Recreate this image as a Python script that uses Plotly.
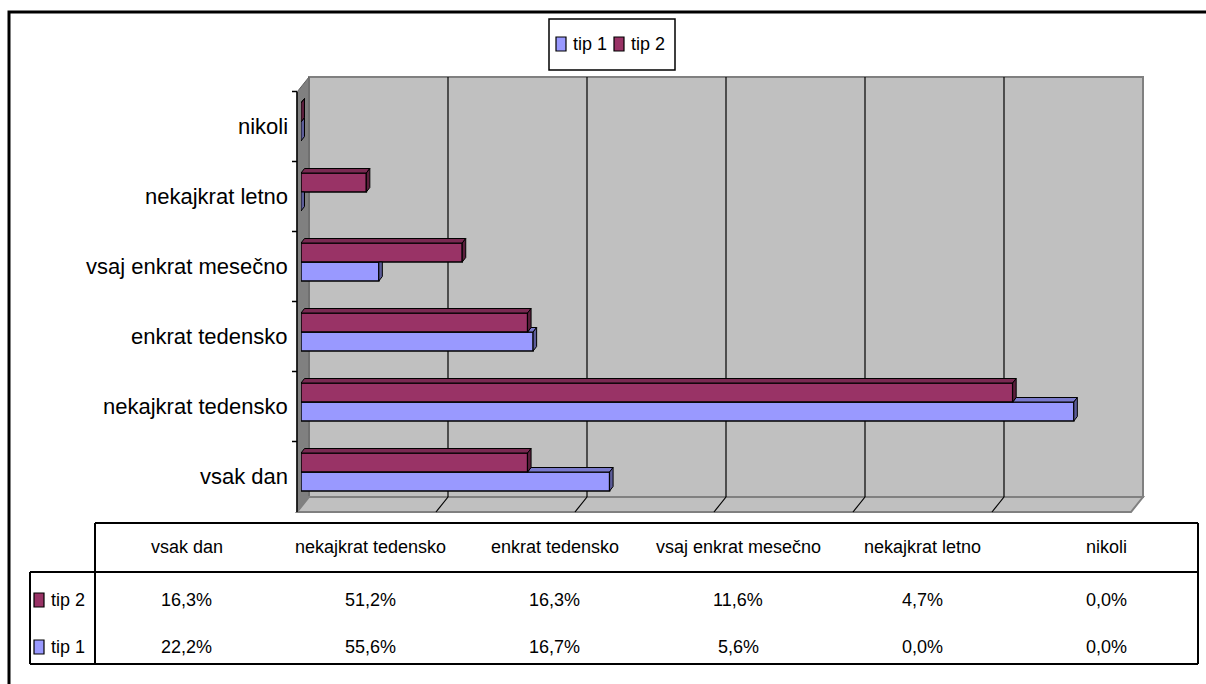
import plotly.graph_objects as go

# ---------------- data ----------------
categories = ["vsak dan", "nekajkrat tedensko", "enkrat tedensko",
              "vsaj enkrat mesečno", "nekajkrat letno", "nikoli"]
series_names = ["tip 1", "tip 2"]
tip1 = [22.2, 55.6, 16.7, 5.6, 0.0, 0.0]
tip2 = [16.3, 51.2, 16.3, 11.6, 4.7, 0.0]
grid_values = [0, 10, 20, 30, 40, 50, 60]

# ---------------- styling / geometry ----------------
W, H = 1206, 684
FONT = "Liberation Sans Narrow, Arial Narrow, Liberation Sans, Arial, sans-serif"
C1, C1_TOP, C1_SIDE = "#9999FF", "#7A7ACC", "#5C5C99"
C2, C2_TOP, C2_SIDE = "#993366", "#7A2952", "#5C1F3D"

X0_PX, X1_PX = 301, 1135        # bar plane: 0 .. 60 %
Y_TOP_PX, Y_BOT_PX = 87, 507     # bar plane: category range -0.5 .. 5.5
PX_PER_PCT = (X1_PX - X0_PX) / 60.0
PX_PER_CAT = (Y_BOT_PX - Y_TOP_PX) / 6.0
DX = 3.5 / PX_PER_PCT            # bar depth (data units)
DY = 4.5 / PX_PER_CAT
BAR_W = 19 / PX_PER_CAT
WALL_DX = 8 / PX_PER_PCT         # back wall offset
FRONT_DX = -4 / PX_PER_PCT       # front floor edge offset


def px(x):
    return x / W


def py(y):
    return 1 - y / H


fig = go.Figure()

pos = list(range(len(categories)))

fig.add_trace(go.Bar(y=pos, x=tip1, orientation="h", width=BAR_W, offset=-BAR_W,
                     marker=dict(color=C1, line=dict(color="black", width=1.5)),
                     name=series_names[0], showlegend=False, hoverinfo="skip"))
fig.add_trace(go.Bar(y=pos, x=tip2, orientation="h", width=BAR_W, offset=0,
                     marker=dict(color=C2, line=dict(color="black", width=1.5)),
                     name=series_names[1], showlegend=False, hoverinfo="skip"))


def add_poly(xs, ys, color):
    fig.add_trace(go.Scatter(x=xs, y=ys, mode="lines", fill="toself",
                             fillcolor=color, line=dict(color="black", width=1),
                             hoverinfo="skip", showlegend=False))


# 3-D faces
t1x, t1y, s1x, s1y, t2x, t2y, s2x, s2y = [], [], [], [], [], [], [], []
for i, (v1, v2) in enumerate(zip(tip1, tip2)):
    # tip 1 (lower bar)
    yb, yt = i - BAR_W, i
    if v1 > v2:
        t1x += [v2, v1, v1 + DX, v2 + DX, v2, None]
        t1y += [yt, yt, yt + DY, yt + DY, yt, None]
    if v2 >= v1 + DX:
        s1x += [v1, v1, v1 + DX, v1 + DX, v1, None]
        s1y += [yb, yt, yt, yb + DY, yb, None]
    else:
        s1x += [v1, v1, v1 + DX, v1 + DX, v1, None]
        s1y += [yb, yt, yt + DY, yb + DY, yb, None]
    # tip 2 (upper bar)
    yb, yt = i, i + BAR_W
    t2x += [0, v2, v2 + DX, DX, 0, None]
    t2y += [yt, yt, yt + DY, yt + DY, yt, None]
    s2x += [v2, v2, v2 + DX, v2 + DX, v2, None]
    s2y += [yb, yt, yt + DY, yb + DY, yb, None]

add_poly(t1x, t1y, C1_TOP)
add_poly(s1x, s1y, C1_SIDE)
add_poly(t2x, t2y, C2_TOP)
add_poly(s2x, s2y, C2_SIDE)

shapes = []
# outer border
shapes.append(dict(type="rect", xref="paper", yref="paper", x0=px(9), x1=px(1220),
                   y0=py(12), y1=py(700), line=dict(color="black", width=3),
                   fillcolor="rgba(0,0,0,0)", layer="below"))
# back wall
shapes.append(dict(type="rect", xref="paper", yref="paper", x0=px(309), x1=px(1143),
                   y0=py(497), y1=py(77), line=dict(color="#808080", width=2),
                   fillcolor="#C0C0C0", layer="below"))
# left wall
shapes.append(dict(type="path", xref="paper", yref="paper",
                   path=f"M {px(297)} {py(92)} L {px(309)} {py(77)} L {px(309)} {py(497)} L {px(297)} {py(512)} Z",
                   fillcolor="#808080", line=dict(color="#606060", width=1), layer="below"))
# floor
shapes.append(dict(type="path", xref="paper", yref="paper",
                   path=f"M {px(297)} {py(512)} L {px(309)} {py(497)} L {px(1143)} {py(497)} L {px(1131)} {py(512)} Z",
                   fillcolor="#C0C0C0", line=dict(color="#808080", width=2), layer="below"))
# gridlines on back wall + floor
for v in grid_values[1:-1]:
    shapes.append(dict(type="line", xref="x", yref="paper", x0=v + WALL_DX, x1=v + WALL_DX,
                       y0=py(497), y1=py(77), line=dict(color="black", width=1.2), layer="below"))
    shapes.append(dict(type="line", xref="x", yref="paper", x0=v + WALL_DX, x1=v + FRONT_DX,
                       y0=py(497), y1=py(512), line=dict(color="black", width=1.2), layer="below"))
# category axis line + ticks
shapes.append(dict(type="line", xref="paper", yref="paper", x0=px(297), x1=px(297),
                   y0=py(92), y1=py(512), line=dict(color="black", width=1.5)))
for k in range(len(categories) + 1):
    yk = k - 0.5
    shapes.append(dict(type="line", xref="paper", yref="y", x0=px(292), x1=px(297),
                       y0=yk - DY, y1=yk - DY, line=dict(color="black", width=1.5)))

annotations = []
for i, c in enumerate(categories):
    annotations.append(dict(text=c, xref="paper", yref="y", x=px(290), y=i - DY,
                            xanchor="right", yanchor="middle", showarrow=False,
                            font=dict(family=FONT, size=22, color="black")))

# ---------------- data table ----------------
TL, TS, TR = 95, 30, 1198
TT, TM, TB = 523, 572, 664
lw = dict(color="black", width=2)
shapes += [
    dict(type="line", xref="paper", yref="paper", x0=px(TL), x1=px(TR), y0=py(TT), y1=py(TT), line=lw),
    dict(type="line", xref="paper", yref="paper", x0=px(TS), x1=px(TR), y0=py(TM), y1=py(TM), line=lw),
    dict(type="line", xref="paper", yref="paper", x0=px(TS), x1=px(TR), y0=py(TB), y1=py(TB), line=lw),
    dict(type="line", xref="paper", yref="paper", x0=px(TL), x1=px(TL), y0=py(TT), y1=py(TB), line=lw),
    dict(type="line", xref="paper", yref="paper", x0=px(TS), x1=px(TS), y0=py(TM), y1=py(TB), line=lw),
    dict(type="line", xref="paper", yref="paper", x0=px(TR), x1=px(TR), y0=py(TT), y1=py(TB), line=lw),
]
col_w = (TR - TL) / len(categories)
tfont = dict(family=FONT, size=18, color="black")
for k, c in enumerate(categories):
    cx = TL + col_w * (k + 0.5)
    annotations.append(dict(text=c, xref="paper", yref="paper", x=px(cx), y=py(547),
                            xanchor="center", yanchor="middle", showarrow=False, font=tfont))
    for vals, yy in ((tip2, 600), (tip1, 647)):
        txt = f"{vals[k]:.1f}%".replace(".", ",")
        annotations.append(dict(text=txt, xref="paper", yref="paper", x=px(cx), y=py(yy),
                                xanchor="center", yanchor="middle", showarrow=False, font=tfont))
for name, col, yy in ((series_names[1], C2, 600), (series_names[0], C1, 647)):
    shapes.append(dict(type="rect", xref="paper", yref="paper", x0=px(34), x1=px(44),
                       y0=py(yy - 7), y1=py(yy + 7), fillcolor=col, line=dict(color="black", width=1.2)))
    annotations.append(dict(text=name, xref="paper", yref="paper", x=px(49), y=py(yy),
                            xanchor="left", yanchor="middle", showarrow=False, font=tfont))

# ---------------- legend ----------------
shapes.append(dict(type="rect", xref="paper", yref="paper", x0=px(549), x1=px(675),
                   y0=py(70), y1=py(19), line=dict(color="black", width=1.5), fillcolor="white"))
for name, col, sx in ((series_names[0], C1, 556), (series_names[1], C2, 614)):
    shapes.append(dict(type="rect", xref="paper", yref="paper", x0=px(sx), x1=px(sx + 10),
                       y0=py(51), y1=py(37), fillcolor=col, line=dict(color="black", width=1.2)))
    annotations.append(dict(text=name, xref="paper", yref="paper", x=px(sx + 15), y=py(44),
                            xanchor="left", yanchor="middle", showarrow=False, font=tfont))

fig.update_layout(
    width=W, height=H,
    margin=dict(l=0, r=0, t=0, b=0),
    paper_bgcolor="white", plot_bgcolor="rgba(0,0,0,0)",
    barmode="overlay",
    xaxis=dict(domain=[px(X0_PX), px(X1_PX)], range=[0, 60], visible=False, fixedrange=True),
    yaxis=dict(domain=[py(Y_BOT_PX), py(Y_TOP_PX)], range=[-0.5, 5.5], visible=False, fixedrange=True),
    shapes=shapes, annotations=annotations, showlegend=False,
    font=dict(family=FONT),
)

fig.write_html("out.html")
